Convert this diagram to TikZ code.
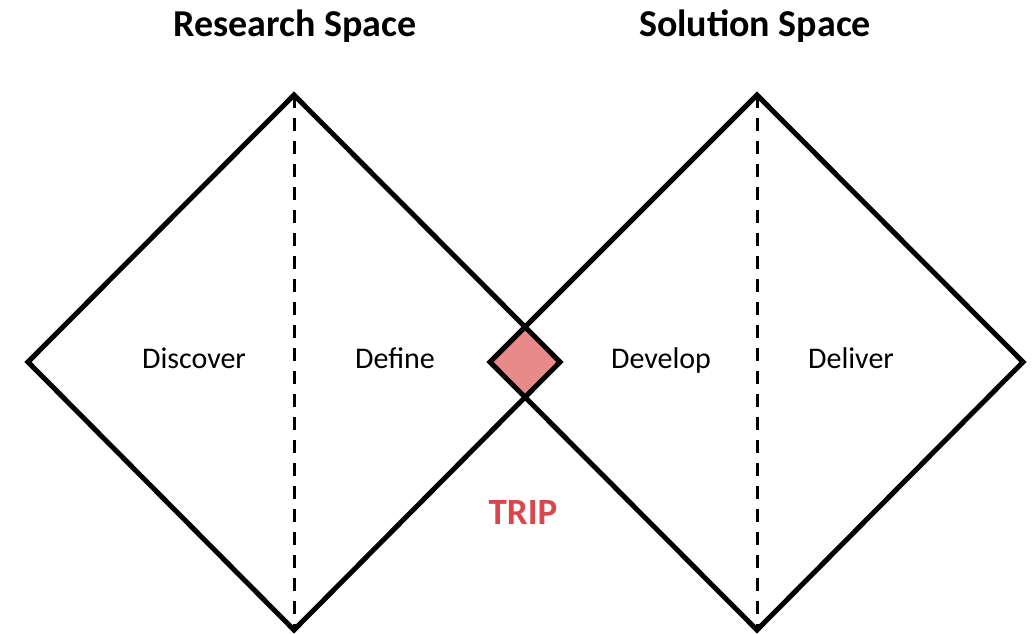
\documentclass[tikz,border=0pt]{standalone}
\usepackage{fontspec}
\setmainfont{Carlito}
\definecolor{tripred}{HTML}{D9464E}
\definecolor{tripfill}{HTML}{E8898A}
\begin{document}
\begin{tikzpicture}[x=1pt,y=-1pt,
  bigline/.style={line width=5pt,line join=miter},
  divider/.style={line width=3pt,dash pattern=on 13pt off 10pt},
  title/.style={font=\bfseries\fontsize{38}{44}\selectfont,anchor=base},
  phase/.style={font=\fontsize{30}{36}\selectfont,anchor=base},
  trip/.style={font=\bfseries\fontsize{37}{44}\selectfont,text=tripred,anchor=base}]
\useasboundingbox (0,0) rectangle (1033,634);
% left diamond
\coordinate (LT) at (294,95);
\coordinate (LL) at (28,362);
\coordinate (LB) at (294,630);
\coordinate (LR) at (560,362);
% right diamond
\coordinate (RT) at (757,95);
\coordinate (RL) at (490,362);
\coordinate (RB) at (757,630);
\coordinate (RR) at (1023,362);
% intersection diamond
\coordinate (IT) at (525,327);
\coordinate (IB) at (525,397);
\fill[tripfill] (RL) -- (IT) -- (LR) -- (IB) -- cycle;
\draw[divider] (LT) -- (LB);
\draw[divider] (RT) -- (RB);
\draw[bigline] (LT) -- (LL) -- (LB) -- (LR) -- cycle;
\draw[bigline] (RT) -- (RL) -- (RB) -- (RR) -- cycle;
\node[title] (rs) at (295,37) {Research Space};
\node[title] (ss) at (755,37) {Solution Space};
\node[phase] (disc) at (194,368) {Discover};
\node[phase] (def) at (395,368) {Define};
\node[phase] (dev) at (661,368) {Develop};
\node[phase] (del) at (851,368) {Deliver};
\node[trip] (tr) at (523,524) {TRIP};
\end{tikzpicture}
\end{document}
